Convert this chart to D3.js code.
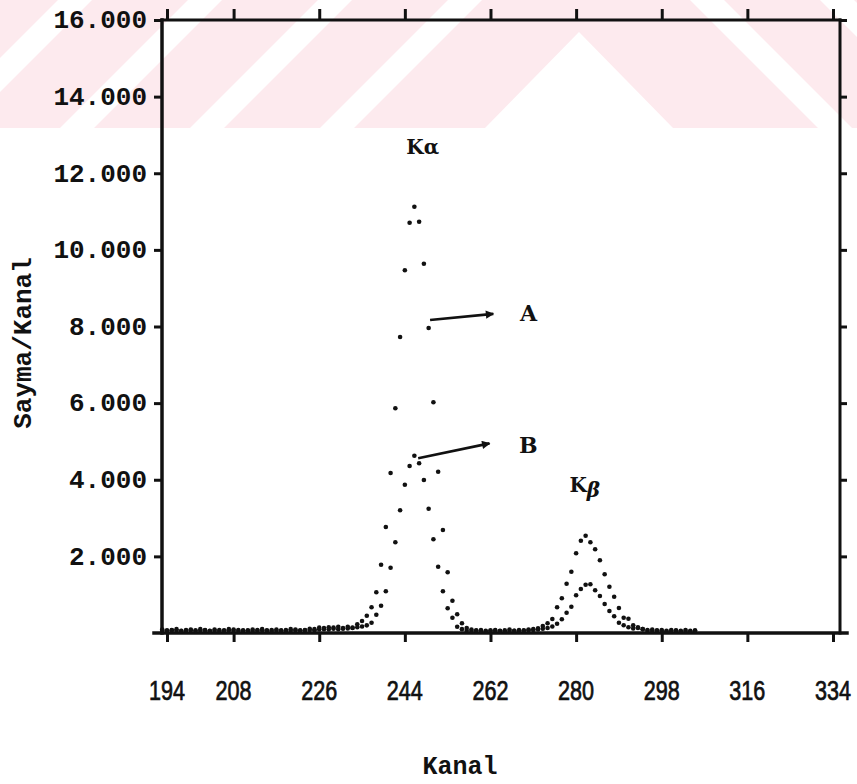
<!DOCTYPE html>
<html>
<head>
<meta charset="utf-8">
<script src="https://cdn.jsdelivr.net/npm/d3@7"></script>
<style>
  body { margin: 0; background: #fff; }
  svg { display: block; }
</style>
</head>
<body>
<svg id="chart" width="857" height="784"></svg>
<script>
// tick values
const xTicks = [194, 208, 226, 244, 262, 280, 298, 316, 334];
const yTicks = [2000, 4000, 6000, 8000, 10000, 12000, 14000, 16000];

// spectrum A (upper curve), [channel, counts]
const spectrumA = [
  [193, 90], [194, 70], [195, 80], [196, 100], [197, 60], [198, 80], [199, 90], [200, 70],
  [201, 100], [202, 80], [203, 60], [204, 90], [205, 80], [206, 70], [207, 100], [208, 90],
  [209, 80], [210, 60], [211, 70], [212, 90], [213, 80], [214, 100], [215, 70], [216, 80],
  [217, 90], [218, 60], [219, 80], [220, 100], [221, 90], [222, 70], [223, 80], [224, 110],
  [225, 100], [226, 140], [227, 130], [228, 150], [229, 140], [230, 160], [231, 130], [232, 164],
  [233, 140], [234, 227], [235, 313], [236, 452], [237, 671], [238, 1062], [239, 1783], [240, 2767],
  [241, 4176], [242, 5865], [243, 7726], [244, 9467], [245, 10709], [246, 11127], [247, 10735], [248, 9639],
  [249, 7961], [250, 6021], [251, 4210], [252, 2688], [253, 1584], [254, 843], [255, 488], [256, 253],
  [257, 130], [258, 90], [259, 70], [260, 80], [261, 60], [262, 70], [263, 80], [264, 60],
  [265, 70], [266, 90], [267, 60], [268, 80], [269, 70], [270, 90], [271, 100], [272, 120],
  [273, 183], [274, 253], [275, 365], [276, 671], [277, 906], [278, 1287], [279, 1600], [280, 2080],
  [281, 2409], [282, 2540], [283, 2367], [284, 2185], [285, 1897], [286, 1532], [287, 1208], [288, 947],
  [289, 653], [290, 399], [291, 373], [292, 200], [293, 130], [294, 100], [295, 80], [296, 90],
  [297, 70], [298, 80], [299, 60], [300, 80], [301, 70], [302, 60], [303, 80], [304, 60], [305, 70]
];

// spectrum B (lower curve), [channel, counts]
const spectrumB = [
  [193, 60], [194, 50], [195, 70], [196, 60], [197, 50], [198, 60], [199, 70], [200, 50],
  [201, 60], [202, 70], [203, 50], [204, 60], [205, 50], [206, 60], [207, 70], [208, 60],
  [209, 50], [210, 70], [211, 60], [212, 50], [213, 60], [214, 70], [215, 60], [216, 50],
  [217, 60], [218, 70], [219, 50], [220, 60], [221, 70], [222, 60], [223, 70], [224, 80],
  [225, 70], [226, 90], [227, 100], [228, 90], [229, 110], [230, 100], [231, 110], [232, 120],
  [233, 130], [234, 150], [235, 170], [236, 200], [237, 269], [238, 478], [239, 712], [240, 1088],
  [241, 1704], [242, 2367], [243, 3202], [244, 3871], [245, 4359], [246, 4627], [247, 4429], [248, 3993],
  [249, 3244], [250, 2446], [251, 1730], [252, 1088], [253, 645], [254, 399], [255, 164], [256, 100],
  [257, 60], [258, 50], [259, 60], [260, 50], [261, 40], [262, 50], [263, 60], [264, 50],
  [265, 40], [266, 50], [267, 60], [268, 50], [269, 60], [270, 70], [271, 80], [272, 90],
  [273, 110], [274, 130], [275, 170], [276, 243], [277, 358], [278, 530], [279, 686], [280, 984],
  [281, 1148], [282, 1261], [283, 1271], [284, 1114], [285, 966], [286, 757], [287, 574], [288, 436],
  [289, 269], [290, 201], [291, 150], [292, 120], [293, 150], [294, 100], [295, 60], [296, 50],
  [297, 60], [298, 50], [299, 40], [300, 50], [301, 60], [302, 40], [303, 50], [304, 40], [305, 50]
];

// annotations (channel, counts)
const peakLabels = [
  { text: "K", sub: "\u03b1", ch: 244.3, v: 12500 },
  { text: "K", sub: "\u03b2", ch: 278.6, v: 3670 }
];
const arrows = [
  { label: "A", from: [249.3, 8170], to: [262.6, 8330], at: [268.2, 8150] },
  { label: "B", from: [246.8, 4560], to: [261.8, 4950], at: [268.0, 4700] }
];

const svg = d3.select("#chart");

// box edges in pixels
const boxL = 162, boxR = 840, boxT = 20, boxB = 633;

const x = d3.scaleLinear().domain([194, 334]).range([167, 833]);
const y = d3.scaleLinear().domain([0, 16000]).range([boxB, boxT]);

const fmt = d3.formatLocale({ decimal: ",", thousands: ".", grouping: [3], currency: ["", ""] }).format(",");

// pale watermark band at the top
function drawWatermark() {
  const band = 128;
  svg.append("clipPath").attr("id", "wm")
    .append("rect").attr("x", 0).attr("y", 0).attr("width", 857).attr("height", band);
  const g = svg.append("g").attr("clip-path", "url(#wm)");
  g.append("rect").attr("width", 857).attr("height", band).attr("fill", "#fdeaee");
  const gap = 34;
  // "/" gaps on the left
  [-70, 60, 190, 320].forEach(function(b) {
    g.append("polygon")
      .attr("points", [[b, band], [b + gap, band], [b + gap + band, 0], [b + band, 0]].join(" "))
      .attr("fill", "#fff");
  });
  // white chevron in the middle
  g.append("polygon")
    .attr("points", [[485, band], [673, band], [579, 32]].join(" "))
    .attr("fill", "#fff");
  // "\" gaps on the right
  [690, 820].forEach(function(t) {
    g.append("polygon")
      .attr("points", [[t, 0], [t + gap, 0], [t + gap + band, band], [t + band, band]].join(" "))
      .attr("fill", "#fff");
  });
}
drawWatermark();

// axes
const axisStyle = function(g) {
  g.select(".domain").remove();
  g.selectAll(".tick line").attr("stroke", "#111").attr("stroke-width", 3);
};

svg.append("g").attr("transform", `translate(${boxL},0)`)
  .call(d3.axisLeft(y).tickValues(yTicks).tickSize(8).tickPadding(7).tickFormat(fmt))
  .call(axisStyle)
  .call(g => g.selectAll("text")
    .attr("font-family", "'Liberation Mono', 'DejaVu Sans Mono', monospace")
    .attr("font-weight", "bold").attr("font-size", 26).attr("fill", "#111").attr("dy", "0.3em"));

svg.append("g").attr("transform", `translate(${boxR},0)`)
  .call(d3.axisRight(y).tickValues(yTicks).tickSize(7).tickFormat(""))
  .call(axisStyle);

svg.append("g").attr("transform", `translate(0,${boxB})`)
  .call(d3.axisBottom(x).tickValues(xTicks).tickSize(9).tickFormat(""))
  .call(axisStyle);

svg.append("g").attr("transform", `translate(0,${boxT})`)
  .call(d3.axisTop(x).tickValues(xTicks).tickSize(11).tickFormat(""))
  .call(axisStyle);

// x tick labels in a narrow sans
svg.append("g").selectAll("text")
  .data(xTicks).enter().append("text")
  .attr("transform", d => `translate(${x(d)},700) scale(0.8,1)`)
  .attr("text-anchor", "middle")
  .attr("font-family", "'Liberation Sans', Arial, sans-serif")
  .attr("font-size", 27)
  .attr("fill", "#111")
  .attr("stroke", "#111").attr("stroke-width", 0.7)
  .text(d => d);

// frame
const frame = svg.append("g").attr("stroke", "#111").attr("stroke-linecap", "square");
frame.append("line").attr("x1", boxL).attr("x2", boxL).attr("y1", boxT).attr("y2", boxB).attr("stroke-width", 3.5);
frame.append("line").attr("x1", boxR).attr("x2", boxR).attr("y1", boxT).attr("y2", boxB).attr("stroke-width", 3);
frame.append("line").attr("x1", boxL).attr("x2", boxR).attr("y1", boxT).attr("y2", boxT).attr("stroke-width", 3);
frame.append("line").attr("x1", 154).attr("x2", 847).attr("y1", boxB).attr("y2", boxB).attr("stroke-width", 3.5);

// data points
[spectrumA, spectrumB].forEach(function(series) {
  svg.append("g").selectAll("circle")
    .data(series).enter().append("circle")
    .attr("cx", d => x(d[0]))
    .attr("cy", d => y(d[1]))
    .attr("r", 2.3)
    .attr("fill", "#111");
});

// arrows
svg.append("defs").append("marker")
  .attr("id", "head").attr("viewBox", "0 0 10 10")
  .attr("refX", 9).attr("refY", 5)
  .attr("markerWidth", 4).attr("markerHeight", 3.2)
  .attr("markerUnits", "strokeWidth")
  .attr("orient", "auto")
  .append("path").attr("d", "M0,0 L10,5 L0,10 Z").attr("fill", "#111");

arrows.forEach(function(a) {
  svg.append("line")
    .attr("x1", x(a.from[0])).attr("y1", y(a.from[1]))
    .attr("x2", x(a.to[0])).attr("y2", y(a.to[1]))
    .attr("stroke", "#111").attr("stroke-width", 2.6)
    .attr("marker-end", "url(#head)");
  svg.append("text")
    .attr("x", x(a.at[0])).attr("y", y(a.at[1]))
    .attr("font-family", "'DejaVu Serif', 'Liberation Serif', serif")
    .attr("font-weight", "bold").attr("font-size", 22)
    .attr("fill", "#111")
    .text(a.label);
});

// peak labels
peakLabels.forEach(function(p) {
  const t = svg.append("text")
    .attr("x", x(p.ch)).attr("y", y(p.v))
    .attr("font-family", "'DejaVu Serif', 'Liberation Serif', serif")
    .attr("font-weight", "bold").attr("font-size", 20)
    .attr("fill", "#111");
  t.append("tspan").text(p.text);
  t.append("tspan").attr("dy", p.sub === "\u03b2" ? 5 : 0)
    .attr("font-style", p.sub === "\u03b2" ? "italic" : "normal")
    .text(p.sub);
});

// axis titles
svg.append("text")
  .attr("x", 460).attr("y", 774)
  .attr("text-anchor", "middle")
  .attr("font-family", "'Liberation Mono', 'DejaVu Sans Mono', monospace")
  .attr("font-weight", "bold").attr("font-size", 25)
  .attr("fill", "#111")
  .text("Kanal");

svg.append("text")
  .attr("transform", "translate(31,343) rotate(-90)")
  .attr("text-anchor", "middle")
  .attr("font-family", "'Liberation Mono', 'DejaVu Sans Mono', monospace")
  .attr("font-weight", "bold").attr("font-size", 26)
  .attr("fill", "#111")
  .text("Sayma/Kanal");
</script>
</body>
</html>
